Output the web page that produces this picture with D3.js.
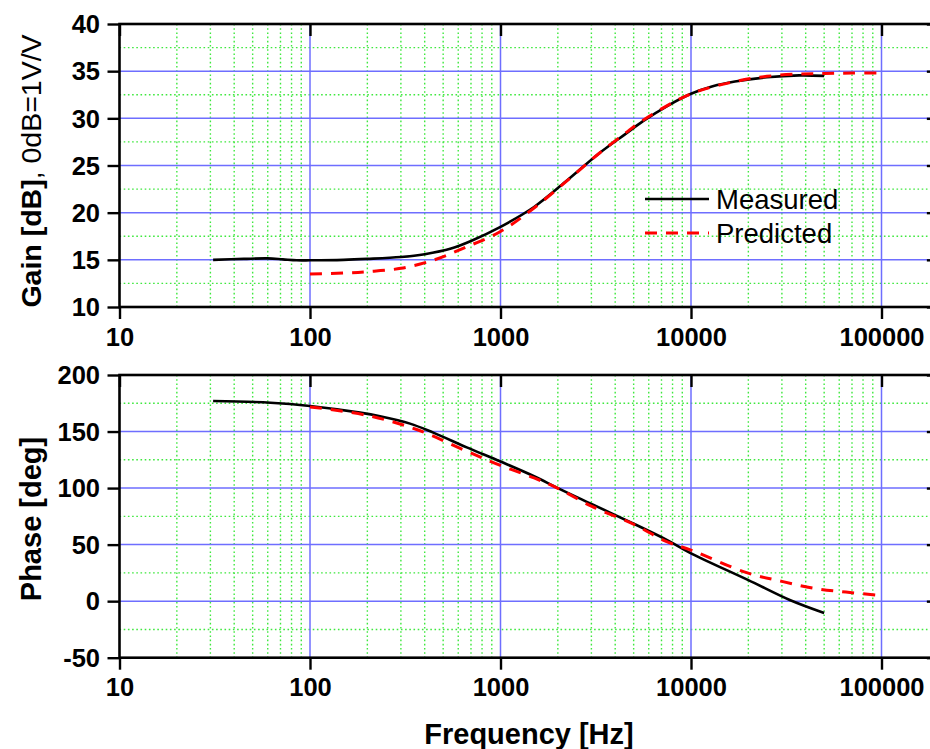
<!DOCTYPE html>
<html>
<head>
<meta charset="utf-8">
<script src="https://cdn.jsdelivr.net/npm/d3@7"></script>
<style>
  html, body { margin: 0; padding: 0; background: #fff; }
  svg { display: block; font-family: "Liberation Sans", Arial, sans-serif; }
</style>
</head>
<body>
<svg id="chart" width="930" height="749"></svg>
<script>
// Frequency-response data (Hz, dB / degrees)
const gainMeasFreq = [31, 45, 60, 72, 85, 100, 150, 200, 300, 400, 550, 700, 1000, 1500, 2200, 3300, 4500, 5600, 7500, 10000, 13000, 17000, 25000, 37000, 50000];
const gainMeas     = [15.0, 15.1, 15.15, 15.05, 14.95, 14.95, 15.0, 15.1, 15.3, 15.6, 16.2, 17.0, 18.5, 20.6, 23.3, 26.3, 28.3, 29.7, 31.3, 32.6, 33.4, 33.9, 34.35, 34.55, 34.5];

const gainPredFreq = [100, 150, 200, 300, 450, 650, 1000, 1500, 2700, 3300, 4500, 5600, 10000, 17000, 25000, 37000, 50000, 70000, 100000];
const gainPred     = [13.5, 13.6, 13.75, 14.1, 15.0, 16.3, 18.0, 20.5, 24.8, 26.3, 28.4, 29.8, 32.6, 33.9, 34.45, 34.7, 34.75, 34.8, 34.8];

const phaseMeasFreq = [31, 62, 100, 183, 233, 335, 444, 665, 1000, 1500, 2000, 3000, 5000, 7500, 10000, 20000, 33000, 50000];
const phaseMeas     = [177, 175.5, 172.6, 166.7, 163.5, 157, 149, 136, 123.5, 110.5, 100, 86, 68.5, 54, 42.3, 18.6, 1, -10.5];

const phasePredFreq = [100, 198, 363, 665, 1000, 1500, 2000, 3000, 5000, 7450, 10000, 19600, 30000, 44000, 65000, 100000];
const phasePred     = [171.8, 164.4, 151.8, 132.6, 120, 109, 99.8, 84, 68, 52.6, 45.2, 25.2, 17.5, 11.4, 8, 5];

// Axis ticks
const freqTicks  = [10, 100, 1000, 10000, 100000];
const gainTicks  = [10, 15, 20, 25, 30, 35, 40];
const phaseTicks = [-50, 0, 50, 100, 150, 200];

const legendLabels = ["Measured", "Predicted"];

const FONT = '"Liberation Sans", Arial, sans-serif';
const svg = d3.select("#chart");

const x = d3.scaleLog().domain([10, 2e5]).range([119.5, 938.85]);

// minor frequency positions: 2..9 within each decade up to 100 kHz
const freqMinor = [];
for (let d = 10; d < 100000; d *= 10) for (let k = 2; k <= 9; k++) freqMinor.push(d * k);

function midpoints(t) {
  const m = [];
  for (let i = 0; i < t.length - 1; i++) m.push((t[i] + t[i + 1]) / 2);
  return m;
}

const plain = d => String(d);

function panel(y, yTicks) {
  const [x0, x1] = x.range();
  const [yb, yt] = y.range();
  const g = svg.append("g");
  const yMinor = midpoints(yTicks);

  // minor grid (green dotted)
  g.append("g").selectAll("line").data(freqMinor).join("line")
    .attr("x1", d => x(d)).attr("x2", d => x(d))
    .attr("y1", yt).attr("y2", yb)
    .attr("stroke", "#3ee83e").attr("stroke-width", 1.4).attr("stroke-dasharray", "1.6,2.6");
  g.append("g").selectAll("line").data(yMinor).join("line")
    .attr("x1", x0).attr("x2", x1)
    .attr("y1", d => y(d)).attr("y2", d => y(d))
    .attr("stroke", "#3ee83e").attr("stroke-width", 1.4).attr("stroke-dasharray", "1.6,2.6");

  // major grid (blue)
  g.append("g").selectAll("line").data(freqTicks.slice(1)).join("line")
    .attr("x1", d => x(d)).attr("x2", d => x(d))
    .attr("y1", yt).attr("y2", yb)
    .attr("stroke", "#6e6eff").attr("stroke-width", 1.5);
  g.append("g").selectAll("line").data(yTicks.slice(1, -1)).join("line")
    .attr("x1", x0).attr("x2", x1)
    .attr("y1", d => y(d)).attr("y2", d => y(d))
    .attr("stroke", "#6e6eff").attr("stroke-width", 1.5);

  // bottom axis
  const bottom = g.append("g").attr("transform", `translate(0,${yb})`);
  bottom.call(d3.axisBottom(x).tickValues(freqMinor).tickSize(6).tickFormat(""));
  bottom.call(d3.axisBottom(x).tickValues(freqTicks).tickSize(12).tickPadding(8.5).tickFormat(plain));
  // top axis, ticks pointing inward
  const top = g.append("g").attr("transform", `translate(0,${yt})`);
  top.call(d3.axisBottom(x).tickValues(freqMinor).tickSize(6).tickFormat(""));
  top.call(d3.axisBottom(x).tickValues(freqTicks).tickSize(12).tickFormat(""));
  // left axis
  const left = g.append("g").attr("transform", `translate(${x0},0)`);
  left.call(d3.axisLeft(y).tickValues(yMinor).tickSize(6).tickFormat(""));
  left.call(d3.axisLeft(y).tickValues(yTicks).tickSize(12).tickPadding(7.5).tickFormat(plain));
  // right axis, ticks pointing inward
  const right = g.append("g").attr("transform", `translate(${x1},0)`);
  right.call(d3.axisLeft(y).tickValues(yMinor).tickSize(6).tickFormat(""));
  right.call(d3.axisLeft(y).tickValues(yTicks).tickSize(12).tickFormat(""));

  g.selectAll(".domain").remove();
  g.selectAll(".tick line").attr("stroke", "#000").attr("stroke-width", 2.4);
  g.selectAll(".tick text")
    .attr("font-family", FONT).attr("font-size", 25.5).attr("font-weight", "bold").attr("fill", "#000");
  left.selectAll(".tick text").attr("dy", "0.34em");

  // frame
  g.append("rect").attr("x", x0).attr("y", yt).attr("width", x1 - x0).attr("height", yb - yt)
    .attr("fill", "none").attr("stroke", "#000").attr("stroke-width", 2.6);
  return g;
}

function curve(g, y, freqs, vals, color, dash, width) {
  const pts = freqs.map((f, i) => [f, vals[i]]);
  g.append("path").datum(pts)
    .attr("d", d3.line().x(d => x(d[0])).y(d => y(d[1])).curve(d3.curveCatmullRom.alpha(0.5)))
    .attr("fill", "none").attr("stroke", color).attr("stroke-width", width)
    .attr("stroke-dasharray", dash).attr("stroke-linejoin", "round");
}

// Gain panel
const yGain = d3.scaleLinear().domain([10, 40]).range([307, 24]);
const gTop = panel(yGain, gainTicks);
curve(gTop, yGain, gainMeasFreq, gainMeas, "#000", null, 2.6);
curve(gTop, yGain, gainPredFreq, gainPred, "#ff0000", "12,9", 3);

// Phase panel
const yPhase = d3.scaleLinear().domain([-50, 200]).range([657.7, 375]);
const gBot = panel(yPhase, phaseTicks);
curve(gBot, yPhase, phaseMeasFreq, phaseMeas, "#000", null, 2.6);
curve(gBot, yPhase, phasePredFreq, phasePred, "#ff0000", "12,9", 3);

// Legend
const legend = svg.append("g");
[["#000", null, 199], ["#ff0000", "12,9", 233]].forEach(([c, dash, ly], i) => {
  legend.append("line").attr("x1", 645).attr("x2", 709).attr("y1", ly).attr("y2", ly)
    .attr("stroke", c).attr("stroke-width", i ? 3 : 2.6).attr("stroke-dasharray", dash);
  legend.append("text").attr("x", 716).attr("y", ly + 10)
    .attr("font-family", FONT).attr("font-size", 27.5).attr("fill", "#000")
    .text(legendLabels[i]);
});

// Axis titles
const gainTitle = svg.append("text")
  .attr("transform", "translate(41,171) rotate(-90)")
  .attr("text-anchor", "middle").attr("font-family", FONT).attr("font-size", 28.5).attr("fill", "#000");
gainTitle.append("tspan").attr("font-weight", "bold").text("Gain [dB]");
gainTitle.append("tspan").attr("font-weight", "normal").text(", 0dB=1V/V");

svg.append("text")
  .attr("transform", "translate(41,519) rotate(-90)")
  .attr("text-anchor", "middle").attr("font-family", FONT).attr("font-size", 29)
  .attr("font-weight", "bold").attr("fill", "#000").text("Phase [deg]");

svg.append("text")
  .attr("x", 529).attr("y", 744)
  .attr("text-anchor", "middle").attr("font-family", FONT).attr("font-size", 29)
  .attr("font-weight", "bold").attr("fill", "#000").text("Frequency [Hz]");
</script>
</body>
</html>
